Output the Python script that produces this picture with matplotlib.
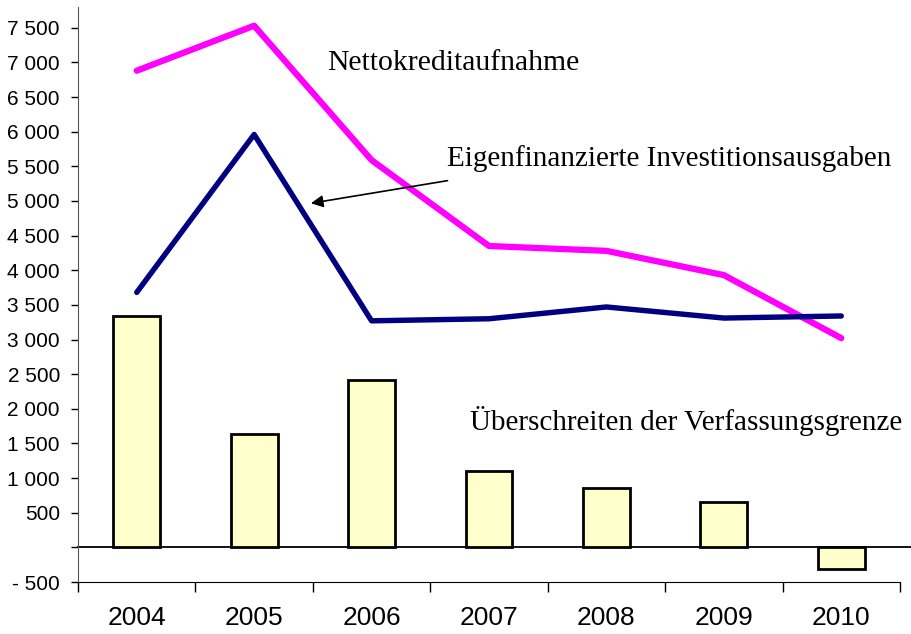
import matplotlib.pyplot as plt
import numpy as np

years = ['2004', '2005', '2006', '2007', '2008', '2009', '2010']
netto = [6880, 7530, 5590, 4350, 4280, 3930, 3020]
eigen = [3680, 5960, 3270, 3300, 3470, 3310, 3340]
ueber = [3340, 1640, 2420, 1100, 860, 660, -310]

yticks = [-500, 0, 500, 1000, 1500, 2000, 2500, 3000, 3500, 4000,
          4500, 5000, 5500, 6000, 6500, 7000, 7500]


def fmt(v):
    if v == 0:
        return ''
    s = '{:,}'.format(abs(v)).replace(',', ' ')
    return ('- ' + s) if v < 0 else s


fig = plt.figure(figsize=(9.11, 6.34), dpi=100)
ax = fig.add_axes([78/911, 52/634, 822/911, 575/634])

x = np.arange(len(years))
ax.bar(x, ueber, width=0.4, color='#ffffcc', edgecolor='black', linewidth=2, zorder=2)
ax.axhline(0, color='black', lw=1.3, zorder=1, xmax=1.02, clip_on=False)
ax.plot(x, netto, color='#ff00ff', lw=4.5, solid_capstyle='round', zorder=3)
ax.plot(x, eigen, color='#000080', lw=3.9, solid_capstyle='round', zorder=3)

ax.set_xlim(-0.5, len(years) - 0.5)
ax.set_ylim(-500, 7800)

ax.set_yticks(yticks)
ax.set_yticklabels([fmt(v) for v in yticks], family='Liberation Sans', fontsize=15)
ax.set_xticks(np.arange(len(years) + 1) - 0.5)
ax.set_xticklabels([])
ax.set_xticks(x, minor=True)
ax.set_xticklabels(years, minor=True, family='Liberation Sans', fontsize=19)
ax.tick_params(axis='x', which='major', length=7, width=1, direction='out')
ax.tick_params(axis='x', which='minor', length=0, pad=17)
ax.tick_params(axis='y', length=5, width=1, direction='out', pad=8)

ax.spines['top'].set_visible(False)
ax.spines['right'].set_visible(False)
ax.spines['left'].set_color('#555555')

serif = 'Liberation Serif'
ax.text(1.62, 6990, 'Nettokreditaufnahme', family=serif, fontsize=21.3, ha='left', va='center')
ax.text(2.64, 5610, 'Eigenfinanzierte Investitionsausgaben', family=serif, fontsize=21,
        ha='left', va='center')
ax.text(2.84, 1830, 'Überschreiten der Verfassungsgrenze', family=serif, fontsize=21,
        ha='left', va='center')
ax.annotate('', xy=(1.46, 4960), xytext=(2.67, 5300),
            arrowprops=dict(arrowstyle='-|>', color='black', lw=1.2, mutation_scale=18))

fig.savefig('out.png', dpi=100)
